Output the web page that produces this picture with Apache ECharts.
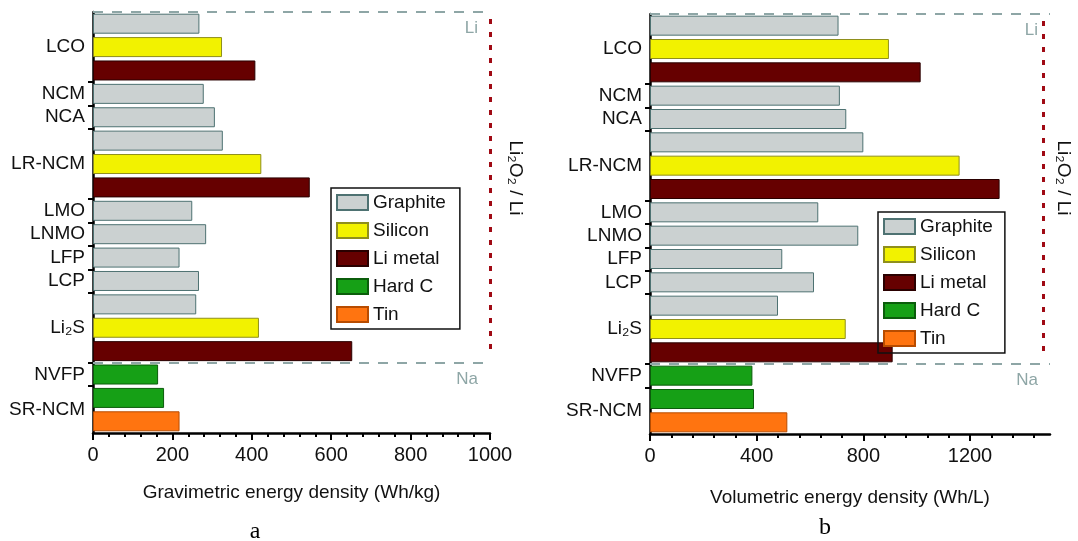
<!DOCTYPE html>
<html>
<head>
<meta charset="utf-8">
<script src="https://cdn.jsdelivr.net/npm/echarts@6/dist/echarts.min.js"></script>
<style>
  html, body { margin: 0; padding: 0; background: #fff; }
  #chart { width: 1078px; height: 541px; }
</style>
</head>
<body>
<div id="chart"></div>
<script>
// ---------- DATA ----------
const cathodes = ['LCO', 'NCM', 'NCA', 'LR-NCM', 'LMO', 'LNMO', 'LFP', 'LCP', 'Li₂S', 'NVFP', 'SR-NCM'];
const anodes = ['Graphite', 'Silicon', 'Li metal', 'Hard C', 'Tin'];

// Gravimetric energy density (Wh/kg), one value per cathode (null = no bar)
const gravGraphite = [268, 279, 307, 327, 250, 285, 218, 267, 260, null, null];
const gravSilicon  = [325, null, null, 424, null, null, null, null, 418, null, null];
const gravLiMetal  = [409, null, null, 546, null, null, null, null, 653, null, null];
const gravHardC    = [null, null, null, null, null, null, null, null, null, 164, 179];
const gravTin      = [null, null, null, null, null, null, null, null, null, null, 218];

// Volumetric energy density (Wh/L)
const volGraphite = [707, 712, 736, 800, 631, 781, 496, 615, 480, null, null];
const volSilicon  = [896, null, null, 1161, null, null, null, null, 734, null, null];
const volLiMetal  = [1015, null, null, 1311, null, null, null, null, 910, null, null];
const volHardC    = [null, null, null, null, null, null, null, null, null, 384, 390];
const volTin      = [null, null, null, null, null, null, null, null, null, null, 515];

const gravTicks = [0, 200, 400, 600, 800, 1000];
const volTicks = [0, 400, 800, 1200];

// ---------- BUILD ----------
const gravVals = [gravGraphite, gravSilicon, gravLiMetal, gravHardC, gravTin];
const volVals = [volGraphite, volSilicon, volLiMetal, volHardC, volTin];

const slots = [];      // one slot per bar
const groups = [];     // {name, start, count}
cathodes.forEach((c, ci) => {
  const start = slots.length;
  anodes.forEach((a, ai) => {
    if (gravVals[ai][ci] != null || volVals[ai][ci] != null) slots.push({ ci, ai, key: c + '|' + a });
  });
  groups.push({ name: c, start, count: slots.length - start });
});
const nSlots = slots.length;
const naBoundary = groups[cathodes.indexOf('NVFP')].start;
const labelCenters = groups.map(g => g.start + g.count / 2);
const labelMap = {};
groups.forEach(g => { labelMap[String(g.start + g.count / 2)] = g.name; });
const boundaries = groups.slice(1).map(g => g.start);

const fillColors = ['#cbd1d1', '#f2f200', '#660000', '#16a016', '#ff7410'];
const borderColors = ['#4e7272', '#8f8f1c', '#2a0000', '#0b5d0b', '#b84c00'];

const FONT = '"Liberation Sans", Arial, sans-serif';
const dashColor = '#8ea6a6';
const dotColor = '#a00a14';

function barSeries(vals, gi) {
  return anodes.map((a, ai) => ({
    type: 'bar',
    name: a,
    xAxisIndex: gi === 0 ? 0 : 1,
    yAxisIndex: gi === 0 ? 0 : 2,
    barWidth: 20,
    barGap: '-100%',
    itemStyle: { color: fillColors[ai], borderColor: borderColors[ai], borderWidth: 1 },
    emphasis: { disabled: true },
    data: slots.map(s => (s.ai === ai && vals[ai][s.ci] != null) ? vals[ai][s.ci] : '-')
  }));
}

function markerSeries(xIdx, yIdx, xLine) {
  const labelBase = { show: true, color: dashColor, fontSize: 17, fontFamily: FONT, position: 'insideEndBottom', distance: [12, 8] };
  return {
    type: 'line', xAxisIndex: xIdx, yAxisIndex: yIdx, data: [], silent: true,
    markLine: {
      silent: true, symbol: 'none', animation: false,
      data: [
        { yAxis: 0, lineStyle: { color: dashColor, type: [10, 9], width: 2 }, label: Object.assign({}, labelBase, { formatter: 'Li' }) },
        { yAxis: naBoundary, lineStyle: { color: dashColor, type: [10, 9], width: 2 }, label: Object.assign({}, labelBase, { formatter: 'Na' }) },
        [
          { coord: [xLine, 0.3], lineStyle: { color: dotColor, type: [5, 8], width: 3 }, label: { show: false } },
          { coord: [xLine, naBoundary - 0.3] }
        ]
      ]
    }
  };
}

function catAxis(gi) {
  return { type: 'category', gridIndex: gi, inverse: true, show: false, position: 'left', data: slots.map(s => s.key) };
}
function labelAxis(gi) {
  return {
    type: 'value', gridIndex: gi, inverse: true, min: 0, max: nSlots, position: 'left',
    axisLine: { show: true, onZero: false, lineStyle: { color: '#000', width: 2.5 } },
    axisTick: { show: true, customValues: boundaries, length: 5, lineStyle: { color: '#000', width: 2 } },
    axisLabel: {
      customValues: labelCenters, formatter: v => labelMap[String(v)] || '',
      color: '#111', fontSize: 19, fontFamily: FONT, margin: 8
    },
    splitLine: { show: false }
  };
}

const chart = echarts.init(document.getElementById('chart'));
const minorVol = [];
for (let i = 0; i < volTicks.length; i++) {
  const step = (volTicks[1] - volTicks[0]) / 5;
  for (let k = 1; k < 5; k++) { const v = volTicks[i] + k * step; if (v < 1500) minorVol.push(v); }
}
const numFmt = v => String(v);

chart.setOption({
  animation: false,
  grid: [
    { left: 93, top: 12, width: 397, height: 421 },
    { left: 650, top: 14, width: 400, height: 420 }
  ],
  xAxis: [
    {
      type: 'value', gridIndex: 0, min: 0, max: 1000, interval: 200, position: 'bottom',
      name: 'Gravimetric energy density (Wh/kg)', nameLocation: 'middle', nameGap: 50,
      nameTextStyle: { color: '#111', fontSize: 19, fontFamily: FONT },
      axisLine: { show: true, onZero: false, lineStyle: { color: '#000', width: 2.5 } },
      axisTick: { show: true, length: 7, lineStyle: { color: '#000', width: 2 } },
      minorTick: { show: true, splitNumber: 5, length: 4, lineStyle: { color: '#000', width: 2 } },
      axisLabel: { color: '#111', fontSize: 20, fontFamily: FONT, margin: 12, formatter: numFmt },
      splitLine: { show: false }
    },
    {
      type: 'value', gridIndex: 1, min: 0, max: 1500, position: 'bottom',
      name: 'Volumetric energy density (Wh/L)', nameLocation: 'middle', nameGap: 54,
      nameTextStyle: { color: '#111', fontSize: 19, fontFamily: FONT },
      axisLine: { show: true, onZero: false, lineStyle: { color: '#000', width: 2.5 } },
      axisTick: { show: true, customValues: volTicks, length: 7, lineStyle: { color: '#000', width: 2 } },
      axisLabel: { customValues: volTicks, color: '#111', fontSize: 20, fontFamily: FONT, margin: 12, formatter: numFmt },
      splitLine: { show: false }
    },
    {
      type: 'value', gridIndex: 1, min: 0, max: 1500, position: 'bottom', offset: 0,
      axisLine: { show: false, onZero: false },
      axisTick: { show: true, customValues: minorVol, length: 4, lineStyle: { color: '#000', width: 2 } },
      axisLabel: { show: false },
      splitLine: { show: false }
    }
  ],
  yAxis: [catAxis(0), labelAxis(0), catAxis(1), labelAxis(1)],
  legend: [
    {
      orient: 'vertical', left: 331, top: 188, data: anodes, icon: 'rect',
      itemWidth: 31, itemHeight: 15, itemGap: 9, padding: [5, 14, 5, 5],
      borderColor: '#111', borderWidth: 1.5, selectedMode: false,
      textStyle: { color: '#111', fontSize: 19, fontFamily: FONT }
    },
    {
      orient: 'vertical', left: 878, top: 212, data: anodes, icon: 'rect',
      itemWidth: 31, itemHeight: 15, itemGap: 9, padding: [5, 12, 5, 5],
      borderColor: '#111', borderWidth: 1.5, selectedMode: false,
      textStyle: { color: '#111', fontSize: 19, fontFamily: FONT }
    }
  ],
  graphic: [
    { type: 'text', x: 515, y: 178, rotation: -Math.PI / 2, silent: true,
      style: { text: 'Li₂O₂ / Li', font: '19px ' + FONT, fill: '#111', textAlign: 'center', textVerticalAlign: 'middle' } },
    { type: 'text', x: 1063, y: 178, rotation: -Math.PI / 2, silent: true,
      style: { text: 'Li₂O₂ / Li', font: '19px ' + FONT, fill: '#111', textAlign: 'center', textVerticalAlign: 'middle' } },
    { type: 'text', x: 255, y: 532, silent: true,
      style: { text: 'a', font: '24px "Liberation Serif", "Times New Roman", serif', fill: '#000', textAlign: 'center', textVerticalAlign: 'middle' } },
    { type: 'text', x: 825, y: 528, silent: true,
      style: { text: 'b', font: '24px "Liberation Serif", "Times New Roman", serif', fill: '#000', textAlign: 'center', textVerticalAlign: 'middle' } }
  ],
  series: [
    ...barSeries(gravVals, 0),
    ...barSeries(volVals, 1),
    markerSeries(0, 1, 1000),
    markerSeries(1, 3, 1475)
  ]
});
</script>
</body>
</html>
